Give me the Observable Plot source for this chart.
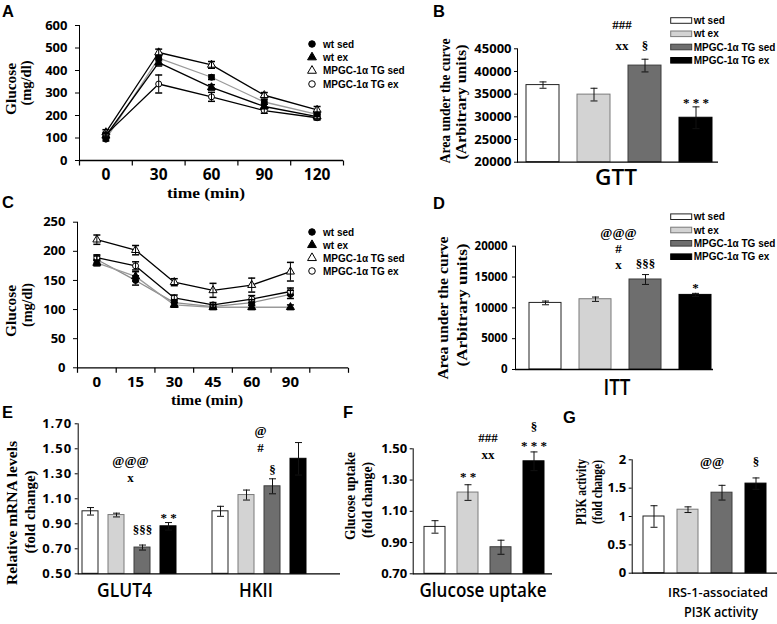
<!DOCTYPE html>
<html><head><meta charset="utf-8">
<script src="https://cdn.jsdelivr.net/npm/d3@7"></script>
<script src="https://cdn.jsdelivr.net/npm/@observablehq/plot@0.6"></script>
<style>
html,body{margin:0;padding:0;background:#fff;overflow:hidden}
#fig{position:relative;width:777px;height:624px;background:#fff}
#fig svg{position:absolute;left:0;top:0}
.pA [aria-label^="x-axis"] text{font-size:15.5px}
.pC [aria-label^="x-axis"] text{font-size:15px}
.pE [aria-label^="y-axis"] text{letter-spacing:1px}
</style></head><body><div id="fig"></div>
<script>
// ---------- data ----------
const groups = ["wt sed", "wt ex", "MPGC-1α TG sed", "MPGC-1α TG ex"];

// A: GTT time course
const gttTimes = ["0", "30", "60", "90", "120"];
const gttWtSed = [95, 455, 370, 260, 205];   const gttWtSedSe = [8, 12, 10, 10, 10];
const gttWtEx = [110, 435, 325, 240, 195];   const gttWtExSe = [10, 15, 12, 10, 10];
const gttTgSed = [125, 480, 425, 290, 225];  const gttTgSedSe = [12, 15, 15, 12, 15];
const gttTgEx = [115, 340, 283, 222, 190];   const gttTgExSe = [10, 40, 20, 12, 10];
const gttTicks = [0, 100, 200, 300, 400, 500, 600];

// C: ITT time course
const ittTimes = ["0", "15", "30", "45", "60", "90"];
const ittWtSed = [186, 150, 112, 105, 112, 126]; const ittWtSedSe = [6, 8, 5, 4, 5, 7];
const ittWtEx = [180, 157, 108, 104, 104, 104];  const ittWtExSe = [5, 8, 4, 4, 4, 4];
const ittTgSed = [220, 202, 147, 133, 142, 165]; const ittTgSedSe = [8, 8, 6, 12, 12, 16];
const ittTgEx = [189, 175, 120, 108, 118, 131];  const ittTgExSe = [5, 7, 5, 4, 6, 6];
const ittTicks = [0, 50, 100, 150, 200, 250];

// B: GTT AUC
const aucGtt = [37000, 34900, 41300, 29800]; const aucGttSe = [700, 1400, 1400, 2400];
const aucGttTicks = [20000, 25000, 30000, 35000, 40000, 45000];
const gttSig = [
  {bar: 2, text: "###", y: 50200, kind: "cmp"},
  {bar: 2, text: "xx", y: 45700, kind: "bold"},
  {bar: 2, text: "§", y: 45700, kind: "on"},
  {bar: 3, text: "* * *", y: 33000, kind: "on"}
];

// D: ITT AUC
const aucItt = [10800, 11400, 14600, 12100]; const aucIttSe = [300, 350, 800, 250];
const aucIttTicks = [0, 5000, 10000, 15000, 20000];
const ittSig = [
  {bar: 2, text: "@@@", y: 22200, kind: "cmp"},
  {bar: 2, text: "#", y: 19600, kind: "cmp"},
  {bar: 2, text: "x", y: 16900, kind: "bold"},
  {bar: 2, text: "§§§", y: 17200, kind: "on"},
  {bar: 3, text: "*", y: 13300, kind: "on"}
];

// E: mRNA
const genes = ["GLUT4", "HKII"];
const mrnaGlut4 = [1.00, 0.97, 0.71, 0.88]; const mrnaGlut4Se = [0.03, 0.015, 0.02, 0.03];
const mrnaHk2 = [1.00, 1.13, 1.20, 1.42];   const mrnaHk2Se = [0.04, 0.04, 0.06, 0.13];
const mrnaTicks = [0.5, 0.7, 0.9, 1.1, 1.3, 1.5, 1.7];
const mrnaSig = [
  {gene: 0, bar: 2, text: "@@@", y: 1.40, kind: "cmp"},
  {gene: 0, bar: 2, text: "x", y: 1.27, kind: "bold"},
  {gene: 0, bar: 2, text: "§§§", y: 0.85, kind: "on"},
  {gene: 0, bar: 3, text: "* *", y: 0.95, kind: "on"},
  {gene: 1, bar: 2, text: "@", y: 1.64, kind: "cmp"},
  {gene: 1, bar: 2, text: "#", y: 1.51, kind: "cmp"},
  {gene: 1, bar: 2, text: "§", y: 1.33, kind: "on"}
];

// F: glucose uptake
const uptake = [1.00, 1.22, 0.87, 1.42]; const uptakeSe = [0.04, 0.05, 0.045, 0.06];
const uptakeTicks = [0.7, 0.9, 1.1, 1.3, 1.5];
const uptakeSig = [
  {bar: 1, text: "* *", y: 1.32, kind: "on"},
  {bar: 2, text: "###", y: 1.57, kind: "cmp"},
  {bar: 2, text: "xx", y: 1.46, kind: "bold"},
  {bar: 3, text: "§", y: 1.64, kind: "on"},
  {bar: 3, text: "* * *", y: 1.52, kind: "on"}
];

// G: PI3K activity
const pi3k = [1.00, 1.12, 1.42, 1.58]; const pi3kSe = [0.19, 0.05, 0.13, 0.10];
const pi3kTicks = [0, 0.5, 1, 1.5, 2];
const pi3kSig = [
  {bar: 2, text: "@@", y: 1.97, kind: "cmp"},
  {bar: 3, text: "§", y: 1.97, kind: "on"}
];

// ---------- styling ----------
const W = 777, H = 624;
const fig = document.getElementById("fig");
const seriesFill = ["#ffffff", "#d3d3d3", "#6e6e6e", "#000000"];
const seriesStroke = ["#222222", "#7a7a7a", "#3c3c3c", "#000000"];
const sans = "'Open Sans', 'Liberation Sans', sans-serif";
const arial = "'Liberation Sans', Arial, sans-serif";
const serif = "'Liberation Serif', 'Times New Roman', serif";
const cap = {draw(ctx) { ctx.moveTo(-3.5, 0); ctx.lineTo(3.5, 0); }};
const vtick = {draw(ctx) { ctx.moveTo(0, 0); ctx.lineTo(0, 5); }};

function frameOpts([x0, x1, y0, y1]) {
  return {width: W, height: H, marginLeft: x0, marginRight: W - x1, marginTop: y0, marginBottom: H - y1};
}
function baseStyle(size) {
  return {background: "none", overflow: "visible", fontFamily: sans, fontWeight: 700, fontSize: size + "px", color: "#000"};
}

function barPanel(o) {
  const base = o.yDomain[0];
  const txt = (kind, extra) => Plot.text(o.sig.filter(d => d.kind === kind),
    {x: "key", y: "y", text: "text", fontFamily: serif, fontSize: 13, fill: "#000", ...extra});
  return Plot.plot({
    ...frameOpts(o.frame), className: o.cls, style: baseStyle(o.fontSize),
    x: {type: "band", domain: o.domain, paddingInner: o.band[0], paddingOuter: o.band[1], align: o.band[2], axis: null},
    y: {domain: o.yDomain, ticks: o.yTicks, tickFormat: o.yFmt, tickSize: o.tick[0], tickPadding: o.tick[1], label: null, line: true},
    color: {type: "identity"},
    marks: [
      Plot.barY(o.rows, {x: "key", y1: () => base, y2: "value", fill: d => seriesFill[d.g], stroke: d => seriesStroke[d.g], strokeWidth: 1}),
      Plot.ruleY([base], {stroke: "#000", strokeWidth: 1.3}),
      Plot.ruleX(o.rows, {x: "key", y1: d => d.value - d.se, y2: d => d.value + d.se, stroke: "#111", strokeWidth: 1}),
      Plot.dot(o.rows, {x: "key", y: d => d.value + d.se, symbol: cap, stroke: "#111", fill: "none", strokeWidth: 1}),
      Plot.dot(o.rows, {x: "key", y: d => d.value - d.se, symbol: cap, stroke: "#111", fill: "none", strokeWidth: 1}),
      txt("on", {}),
      txt("cmp", {dx: o.cmpDx}),
      txt("bold", {dx: o.cmpDx, fontWeight: "bold"})
    ]
  });
}

function linePanel(o) {
  const rows = o.series.flatMap((s, g) => s.values.map((v, i) => ({g, i, value: v, se: s.se[i]})));
  const base = o.yDomain[0];
  const symbols = ["circle", "triangle", "triangle", "circle"];
  const order = [0, 1, 2, 3].sort((a, b) => (o.colors[a] === "#000" ? 1 : 0) - (o.colors[b] === "#000" ? 1 : 0));
  return Plot.plot({
    ...frameOpts(o.frame), className: o.cls, style: baseStyle(13),
    x: {domain: [-0.5, o.slots - 0.5], ticks: d3.range(o.times.length), tickFormat: i => o.times[i], tickSize: 0, tickPadding: o.xPad, label: null},
    y: {domain: o.yDomain, ticks: o.yTicks, tickSize: 4, tickPadding: o.yPad, label: null, line: true},
    marks: [
      Plot.ruleY([base], {stroke: "#000", strokeWidth: 1.3}),
      Plot.dot(d3.range(o.slots + 1), {x: d => d - 0.5, y: () => base, symbol: vtick, stroke: "#000", fill: "none", strokeWidth: 1.2}),
      ...order.map(g => Plot.line(rows.filter(d => d.g === g), {x: "i", y: "value", stroke: o.colors[g], strokeWidth: 1.3})),
      ...[0, 1, 2, 3].map(g => Plot.dot(rows.filter(d => d.g === g), {x: "i", y: "value", symbol: symbols[g], r: 3, fill: g < 2 ? "#000" : "#fff", stroke: "#000", strokeWidth: 1})),
      Plot.ruleX(rows, {x: "i", y1: d => d.value - d.se, y2: d => d.value + d.se, stroke: "#000", strokeWidth: 1}),
      Plot.dot(rows, {x: "i", y: d => d.value + d.se, symbol: cap, stroke: "#000", fill: "none"}),
      Plot.dot(rows, {x: "i", y: d => d.value - d.se, symbol: cap, stroke: "#000", fill: "none"})
    ]
  });
}

const barRows = (keys, values, se) => values.map((v, i) => ({key: keys[i], g: i, value: v, se: se[i]}));
const withKey = (sig, keys) => sig.map(d => ({...d, key: keys[d.bar]}));

// A
fig.append(linePanel({
  cls: "pA", frame: [79, 343, 25, 160], times: gttTimes, slots: 5,
  series: [{values: gttWtSed, se: gttWtSedSe}, {values: gttWtEx, se: gttWtExSe}, {values: gttTgSed, se: gttTgSedSe}, {values: gttTgEx, se: gttTgExSe}],
  colors: ["#9a9a9a", "#000", "#000", "#000"],
  yDomain: [0, 600], yTicks: gttTicks, xPad: 8, yPad: 8
}));
// C
fig.append(linePanel({
  cls: "pC", frame: [77, 348, 221.7, 367.3], times: ittTimes, slots: 7,
  series: [{values: ittWtSed, se: ittWtSedSe}, {values: ittWtEx, se: ittWtExSe}, {values: ittTgSed, se: ittTgSedSe}, {values: ittTgEx, se: ittTgExSe}],
  colors: ["#8c8c8c", "#9a9a9a", "#000", "#000"],
  yDomain: [0, 250], yTicks: ittTicks, xPad: 9, yPad: 8
}));
// B
fig.append(barPanel({
  cls: "pB", frame: [517, 718, 48.3, 161.7], domain: groups, rows: barRows(groups, aucGtt, aucGttSe),
  sig: withKey(gttSig, groups), yDomain: [20000, 45000], yTicks: aucGttTicks, yFmt: d => String(d),
  band: [0.36, 0.15, 0.58], tick: [3, 3], fontSize: 13, cmpDx: -23
}));
// D
fig.append(barPanel({
  cls: "pD", frame: [515, 713, 245.7, 369], domain: groups, rows: barRows(groups, aucItt, aucIttSe),
  sig: withKey(ittSig, groups), yDomain: [0, 20000], yTicks: aucIttTicks, yFmt: d => String(d),
  band: [0.36, 0.13, 0.9], tick: [3, 5], fontSize: 11.5, cmpDx: -27
}));
// E
const mrnaKeys = genes.map(gn => groups.map(gr => gn + " " + gr));
const mrnaDomain = [...mrnaKeys[0], " ", ...mrnaKeys[1]];
fig.append(barPanel({
  cls: "pE", frame: [77.7, 340, 423.3, 573.3], domain: mrnaDomain,
  rows: [...barRows(mrnaKeys[0], mrnaGlut4, mrnaGlut4Se), ...barRows(mrnaKeys[1], mrnaHk2, mrnaHk2Se)],
  sig: mrnaSig.map(d => ({...d, key: mrnaKeys[d.gene][d.bar]})),
  yDomain: [0.5, 1.7], yTicks: mrnaTicks, yFmt: d3.format(".2f"),
  band: [0.38, 0.64, 0.11], tick: [3, 3], fontSize: 13, cmpDx: -12
}));
// F
fig.append(barPanel({
  cls: "pF", frame: [412.7, 552, 448.3, 573.3], domain: groups, rows: barRows(groups, uptake, uptakeSe),
  sig: withKey(uptakeSig, groups), yDomain: [0.7, 1.5], yTicks: uptakeTicks, yFmt: d3.format(".2f"),
  band: [0.36, 0.285, 0.6], tick: [3, 3], fontSize: 13, cmpDx: -13
}));
// G
fig.append(barPanel({
  cls: "pG", frame: [631.7, 777, 459.3, 572.7], domain: groups, rows: barRows(groups, pi3k, pi3kSe),
  sig: withKey(pi3kSig, groups), yDomain: [0, 2], yTicks: pi3kTicks, yFmt: d => String(d),
  band: [0.375, 0.28, 0.51], tick: [3, 3], fontSize: 13, cmpDx: -10
}));

// ---------- overlay: titles, panel letters, legends ----------
const ov = d3.select(fig).append("svg").attr("width", W).attr("height", H);
function label(x, y, str, o = {}) {
  const t = ov.append("text").attr("x", x).attr("y", y).text(str)
    .attr("font-family", o.family || serif).attr("font-size", o.size || 15)
    .attr("font-weight", o.weight || 700).attr("text-anchor", o.anchor || "middle").attr("fill", "#000");
  if (o.rotate) t.attr("transform", `rotate(-90 ${x} ${y})`).attr("dominant-baseline", "central");
  if (o.len) t.attr("textLength", o.len).attr("lengthAdjust", "spacingAndGlyphs");
  return t;
}
// panel letters
[["A", 2, 17], ["B", 433, 17], ["C", 2, 208], ["D", 433, 209], ["E", 2, 418], ["F", 343, 418], ["G", 563, 423]]
  .forEach(([s, x, y]) => label(x, y, s, {family: arial, size: 16.5, anchor: "start"}));

// y titles
label(10, 89, "Glucose", {rotate: true, size: 15.5, len: 52});
label(25, 83, "(mg/dl)", {rotate: true, size: 15.5, len: 45});
label(10, 311, "Glucose", {rotate: true, size: 15.5, len: 52});
label(26, 305, "(mg/dl)", {rotate: true, size: 15.5, len: 44});
label(444.7, 101, "Area under the curve", {rotate: true, size: 15, len: 125});
label(461, 102, "(Arbitrary units)", {rotate: true, size: 15, len: 115});
label(443.3, 308, "Area under the curve", {rotate: true, size: 15, len: 143});
label(461.5, 305, "(Arbitrary units)", {rotate: true, size: 15, len: 123});
label(12, 513, "Relative mRNA levels", {rotate: true, size: 15, len: 144});
label(30, 512, "(fold change)", {rotate: true, size: 15, len: 83});
label(350, 496, "Glucose uptake", {rotate: true, size: 15, len: 88});
label(367, 500, "(fold change)", {rotate: true, size: 15, len: 76});
label(581, 492, "PI3K activity", {rotate: true, size: 14, len: 66});
label(597, 492, "(fold change)", {rotate: true, size: 14, len: 64});

// x titles
label(206, 198, "time (min)", {size: 15.5, len: 78});
label(207, 405, "time (min)", {size: 15, len: 72});
label(616, 185, "GTT", {family: sans, weight: 600, size: 21, len: 42});
label(617, 395, "ITT", {family: sans, weight: 600, size: 22, len: 27});
label(124.5, 597, "GLUT4", {family: sans, weight: 600, size: 20, len: 55});
label(256, 597, "HKII", {family: sans, weight: 600, size: 20, len: 34});
label(483, 597, "Glucose uptake", {family: sans, weight: 600, size: 20, len: 127});
label(718, 597, "IRS-1-associated", {family: sans, weight: 600, size: 13, len: 100});
label(721, 617, "PI3K activity", {family: sans, weight: 600, size: 14, len: 74});

// legends
function lineLegend(x, ys) {
  groups.forEach((g, i) => {
    ov.append("path")
      .attr("d", d3.symbol(i === 1 || i === 2 ? d3.symbolTriangle : d3.symbolCircle, 34)())
      .attr("transform", `translate(${x},${ys[i]})`)
      .attr("fill", i < 2 ? "#000" : "#fff").attr("stroke", "#000").attr("stroke-width", 1);
    label(x + 11, ys[i] + 3.6, g, {family: arial, size: 10, anchor: "start"});
  });
}
function barLegend(x, ys) {
  groups.forEach((g, i) => {
    ov.append("rect").attr("x", x).attr("y", ys[i] - 2.8).attr("width", 21).attr("height", 5.6)
      .attr("fill", seriesFill[i]).attr("stroke", seriesStroke[i]).attr("stroke-width", 1);
    label(x + 23, ys[i] + 3.6, g, {family: arial, size: 10, anchor: "start"});
  });
}
lineLegend(312, [44, 57.3, 70.7, 84]);
lineLegend(312, [232, 245, 258, 271]);
barLegend(670.7, [20.5, 33.8, 47, 60.3]);
barLegend(670.7, [216.7, 230, 243.3, 256.7]);
</script>
</body></html>
